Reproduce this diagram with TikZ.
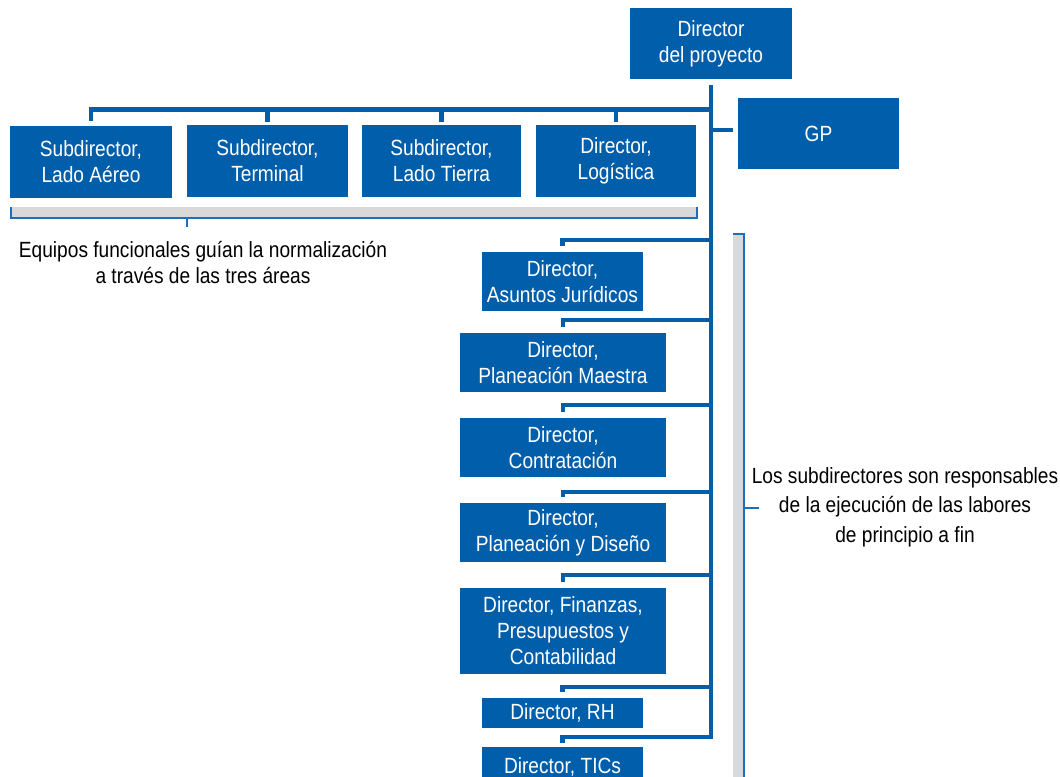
\documentclass[tikz,border=0pt]{standalone}
\usepackage{fontspec}
\setmainfont{Liberation Sans}[FakeStretch=0.87]
\usetikzlibrary{calc}
\definecolor{orgblue}{RGB}{0,94,170}
\definecolor{brgray}{RGB}{217,217,217}
\definecolor{brblue}{RGB}{30,110,190}
\begin{document}
\begin{tikzpicture}[x=0.75pt,y=-0.75pt,
 box/.style={fill=orgblue,text=white,inner sep=0pt,align=center,font=\fontsize{16.5pt}{19.5pt}\selectfont},
 conn/.style={draw=orgblue,line width=3.6pt,line cap=butt,line join=miter},
 brack/.style={draw=brblue,line width=1.2pt},
 lbl/.style={align=center,inner sep=0pt,font=\fontsize{16.5pt}{19.5pt}\selectfont}]
\useasboundingbox (0,0) rectangle (1060,777);
% boxes
\node[box,minimum width=121.5pt,minimum height=53.25pt] (dp) at (711,43.5) {Director\\del proyecto};
\node[box,minimum width=120.75pt,minimum height=53.25pt] (gp) at (818.5,133.5) {GP};
\node[box,minimum width=121.5pt,minimum height=54pt] (s1) at (91,162) {Subdirector,\\Lado Aéreo};
\node[box,minimum width=120.75pt,minimum height=54pt] (s2) at (267.5,161) {Subdirector,\\Terminal};
\node[box,minimum width=119.25pt,minimum height=54pt] (s3) at (441.5,161) {Subdirector,\\Lado Tierra};
\node[box,minimum width=120pt,minimum height=54pt] (s4) at (616,161) {Director,\\Logística};
\node[box,minimum width=120.75pt,minimum height=44.25pt] (aj) at (562.5,281.5) {Director,\\Asuntos Jurídicos};
\node[box,minimum width=154.5pt,minimum height=44.25pt] (pm) at (563,362.5) {Director,\\Planeación Maestra};
\node[box,minimum width=154.5pt,minimum height=44.25pt] (ct) at (563,447.5) {Director,\\Contratación};
\node[box,minimum width=154.5pt,minimum height=44.25pt] (pd) at (563,532.5) {Director,\\Planeación y Diseño};
\node[box,minimum width=154.5pt,minimum height=64.5pt] (fn) at (563,631) {Director, Finanzas,\\Presupuestos y\\Contabilidad};
\node[box,minimum width=120.75pt,minimum height=22.5pt] (rh) at (562.5,713) {Director, RH};
\node[box,minimum width=120.75pt,minimum height=30pt] (tic) at (562.5,767) {Director, TICs};
% coordinates on trunk
\coordinate (ttop) at ($(dp.south)+(0,6)$);
\coordinate (tb) at (711,109.5);
\coordinate (g) at (711,130);
\coordinate (b1) at (711,240);
\coordinate (b2) at (711,320);
\coordinate (b3) at (711,405);
\coordinate (b4) at (711,492);
\coordinate (b5) at (711,575);
\coordinate (b6) at (711,687);
\coordinate (tend) at (711,737);
% connectors
\draw[conn] (ttop) -- (tend) -| ($(tic.north)+(0,-4)$);
\draw[conn] ($(s1.north)+(0,-5)$) |- (tb);
\draw[conn] ($(s2.north)+(0,-3)$) -- (s2.north |- tb);
\draw[conn] ($(s3.north)+(0,-3)$) -- (s3.north |- tb);
\draw[conn] ($(s4.north)+(0,-3)$) -- (s4.north |- tb);
\draw[conn] (g) -- ($(g -| gp.west)+(-5,0)$);
\draw[conn] ($(aj.north)+(0,-6)$) |- (b1);
\draw[conn] ($(pm.north)+(0,-6)$) |- (b2);
\draw[conn] ($(ct.north)+(0,-6)$) |- (b3);
\draw[conn] ($(pd.north)+(0,-6)$) |- (b4);
\draw[conn] ($(fn.north)+(0,-6)$) |- (b5);
\draw[conn] ($(rh.north)+(0,-6)$) |- (b6);
% brackets
\fill[brgray] (11,207) rectangle (697,218);
\draw[brack] (11,207) -- (11,218) -- (697,218) -- (697,207);
\draw[brack] (187,218) -- (187,227);
\fill[brgray] (733,234) rectangle (744,790);
\draw[brack] (733,234) -- (744,234) -- (744,790);
\draw[brack] (744,508) -- (759,508);
% labels
\node[lbl] (eq) at (203,263) {Equipos funcionales guían la normalización\\a través de las tres áreas};
\node[lbl,font=\fontsize{16.5pt}{22pt}\selectfont] (sr) at (905,507) {Los subdirectores son responsables\\de la ejecución de las labores\\de principio a fin};
\end{tikzpicture}
\end{document}
